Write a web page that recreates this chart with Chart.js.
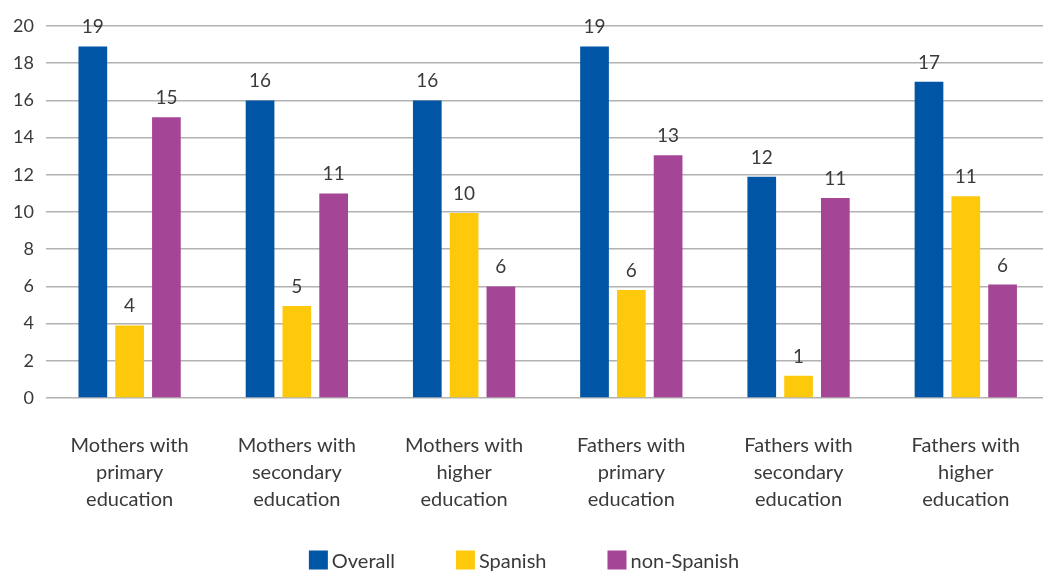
<!DOCTYPE html>
<html>
<head>
<meta charset="utf-8">
<script src="https://cdn.jsdelivr.net/npm/chart.js@4.4.1/dist/chart.umd.min.js"></script>
<style>
  html, body { margin: 0; padding: 0; background: #fff; overflow: hidden; }
  #wrap { position: absolute; left: 0; top: 0; width: 1054px; height: 582px; }
</style>
</head>
<body>
<div id="wrap"><canvas id="c" width="1054" height="582"></canvas></div>
<script>
const categories = [
  ["Mothers with", "primary", "education"],
  ["Mothers with", "secondary", "education"],
  ["Mothers with", "higher", "education"],
  ["Fathers with", "primary", "education"],
  ["Fathers with", "secondary", "education"],
  ["Fathers with", "higher", "education"]
];
const overall    = [18.9, 16.0, 16.0, 18.9, 11.9, 17.0];
const spanish    = [3.9, 4.95, 9.95, 5.8, 1.2, 10.85];
const nonSpanish = [15.1, 11.0, 6.0, 13.05, 10.75, 6.1];
const seriesNames = ["Overall", "Spanish", "non-Spanish"];
const yTicks = [0, 2, 4, 6, 8, 10, 12, 14, 16, 18, 20];

const FONT = "Lato, 'Open Sans', sans-serif";
const TXT = "#3a3a3a";

const valueLabels = {
  id: "valueLabels",
  afterDatasetsDraw(chart) {
    const ctx = chart.ctx;
    ctx.save();
    ctx.font = "19px " + FONT;
    ctx.fillStyle = TXT;
    ctx.textAlign = "center";
    ctx.textBaseline = "alphabetic";
    chart.data.datasets.forEach((ds, i) => {
      const meta = chart.getDatasetMeta(i);
      meta.data.forEach((bar, j) => {
        ctx.fillText(String(Math.round(ds.data[j])), bar.x, bar.y - 13);
      });
    });
    ctx.restore();
  }
};

// Legend drawn below the axis labels, from the datasets' own names/colours
const bottomLegend = {
  id: "bottomLegend",
  afterDraw(chart) {
    const ctx = chart.ctx;
    const box = 19, gapText = 4, gapItem = 61, centerX = 524, yMid = 561;
    ctx.save();
    ctx.font = "20px " + FONT;
    ctx.textBaseline = "middle";
    ctx.textAlign = "left";
    const items = chart.data.datasets.map(ds => ({
      text: ds.label, color: ds.backgroundColor, w: box + gapText + ctx.measureText(ds.label).width
    }));
    const total = items.reduce((s, it) => s + it.w, 0) + gapItem * (items.length - 1);
    let x = centerX - total / 2;
    items.forEach(it => {
      ctx.fillStyle = it.color;
      ctx.fillRect(x, yMid - box / 2 - 1, box, box);
      ctx.fillStyle = TXT;
      ctx.fillText(it.text, x + box + gapText, yMid + 1);
      x += it.w + gapItem;
    });
    ctx.restore();
  }
};

new Chart(document.getElementById("c"), {
  type: "bar",
  data: {
    labels: categories,
    datasets: [
      { label: seriesNames[0], data: overall, backgroundColor: "#0055A4" },
      { label: seriesNames[1], data: spanish, backgroundColor: "#FFC90B" },
      { label: seriesNames[2], data: nonSpanish, backgroundColor: "#A44595" }
    ]
  },
  options: {
    responsive: false,
    animation: false,
    devicePixelRatio: 1,
    layout: { padding: { top: 26, left: 0, right: 0, bottom: 64 } },
    datasets: { bar: { categoryPercentage: 0.66, barPercentage: 0.78 } },
    scales: {
      x: {
        afterFit(scale) { scale.height = 120; },
        grid: { display: false, drawTicks: false },
        border: { display: false },
        ticks: { color: TXT, font: { family: FONT, size: 20, lineHeight: 1.35 }, padding: 34, maxRotation: 0, autoSkip: false }
      },
      y: {
        min: 0, max: 20,
        afterBuildTicks(scale) { scale.ticks = yTicks.map(v => ({ value: v })); },
        afterFit(scale) { scale.width = 46; },
        grid: { color: "#b2b2b2", lineWidth: 1.5, drawTicks: false },
        border: { display: false },
        ticks: { color: TXT, font: { family: FONT, size: 18 }, padding: 12 }
      }
    },
    plugins: {
      legend: { display: false },
      tooltip: { enabled: false }
    }
  },
  plugins: [valueLabels, bottomLegend]
});
</script>
</body>
</html>
